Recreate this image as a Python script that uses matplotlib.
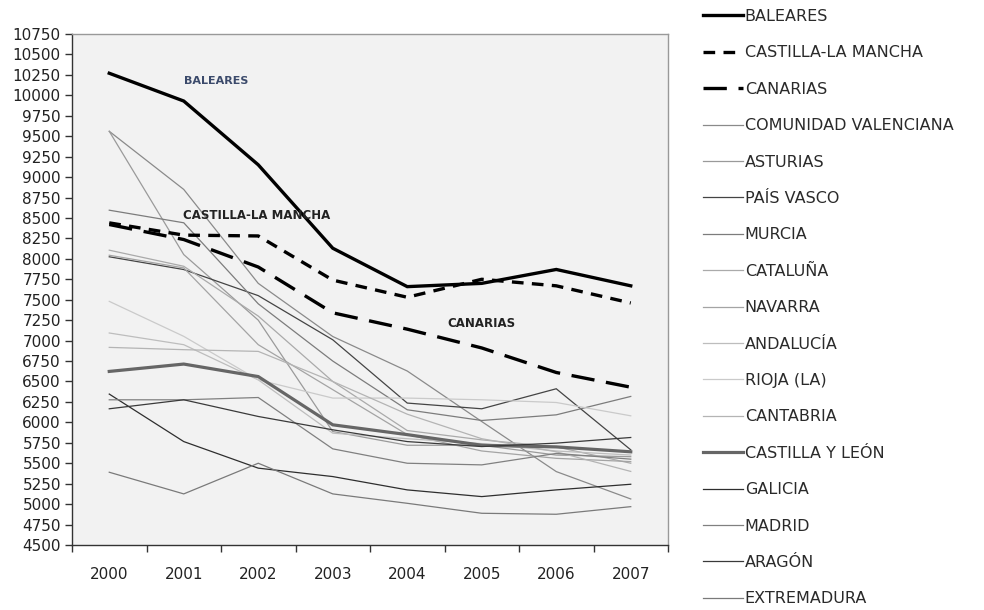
import matplotlib
matplotlib.use("Agg")
import matplotlib.pyplot as plt
import numpy as np

years = ["2000", "2001", "2002", "2003", "2004", "2005", "2006", "2007"]

baleares = [10270, 9930, 9150, 8130, 7660, 7700, 7870, 7670]
castilla_la_mancha = [8440, 8290, 8280, 7740, 7530, 7750, 7670, 7460]
canarias = [8420, 8236, 7900, 7340, 7140, 6910, 6610, 6430]
com_valenciana = [9560, 8849, 7700, 7050, 6628, 6010, 5398, 5063]
asturias = [9560, 8052, 7250, 5888, 5720, 5720, 5600, 5580]
pais_vasco = [8025, 7869, 7550, 7010, 6236, 6166, 6411, 5664]
murcia = [8595, 8441, 7450, 6750, 6154, 6023, 6092, 6317]
cataluna = [8106, 7909, 7300, 6500, 5900, 5786, 5700, 5500]
navarra = [8044, 7889, 6950, 6400, 5850, 5650, 5560, 5520]
andalucia = [7093, 6950, 6520, 5868, 5800, 5740, 5650, 5600]
rioja = [7480, 7052, 6520, 6297, 6297, 6276, 6243, 6080]
cantabria = [6917, 6889, 6868, 6500, 6100, 5800, 5640, 5400]
castilla_leon = [6623, 6713, 6560, 5970, 5850, 5720, 5700, 5640]
galicia = [6346, 5765, 5440, 5337, 5174, 5092, 5174, 5243]
madrid = [6276, 6276, 6304, 5676, 5500, 5480, 5620, 5550]
aragon = [6166, 6276, 6072, 5909, 5765, 5704, 5746, 5815]
extremadura = [5390, 5125, 5500, 5125, 5010, 4888, 4876, 4969]

y_ticks = list(range(4500, 10751, 250))

series = [
    ("BALEARES", baleares, dict(color="black", lw=2.4, ls="-")),
    ("CASTILLA-LA MANCHA", castilla_la_mancha, dict(color="black", lw=2.4, ls=(0, (3.5, 2.5)))),
    ("CANARIAS", canarias, dict(color="black", lw=2.4, ls=(0, (7, 3.5)))),
    ("COMUNIDAD VALENCIANA", com_valenciana, dict(color="#8a8a8a", lw=0.9, ls="-")),
    ("ASTURIAS", asturias, dict(color="#9a9a9a", lw=0.9, ls="-")),
    ("PAÍS VASCO", pais_vasco, dict(color="#444444", lw=0.9, ls="-")),
    ("MURCIA", murcia, dict(color="#7c7c7c", lw=0.9, ls="-")),
    ("CATALUÑA", cataluna, dict(color="#aaaaaa", lw=0.9, ls="-")),
    ("NAVARRA", navarra, dict(color="#a4a4a4", lw=0.9, ls="-")),
    ("ANDALUCÍA", andalucia, dict(color="#bdbdbd", lw=0.9, ls="-")),
    ("RIOJA (LA)", rioja, dict(color="#cacaca", lw=0.9, ls="-")),
    ("CANTABRIA", cantabria, dict(color="#b4b4b4", lw=0.9, ls="-")),
    ("CASTILLA Y LEÓN", castilla_leon, dict(color="#666666", lw=2.3, ls="-")),
    ("GALICIA", galicia, dict(color="#2e2e2e", lw=0.9, ls="-")),
    ("MADRID", madrid, dict(color="#808080", lw=0.9, ls="-")),
    ("ARAGÓN", aragon, dict(color="#3a3a3a", lw=0.9, ls="-")),
    ("EXTREMADURA", extremadura, dict(color="#7a7a7a", lw=0.9, ls="-")),
]

plt.rcParams['font.family'] = ['DejaVu Sans']
fig = plt.figure(figsize=(9.84, 6.10), dpi=100)
ax = fig.add_axes([72/984, 1-545/610, (668-72)/984, (545-34)/610])
ax.set_facecolor("#f2f2f2")

x = np.arange(len(years))
order = list(range(3, len(series))) + [0, 1, 2]
lines = {}
for i in order:
    name, vals, st = series[i]
    ln, = ax.plot(x, vals, label=name, solid_joinstyle="miter", **st)
    lines[i] = ln
handles = [lines[i] for i in range(len(series))]

ax.set_xlim(-0.5, len(years) - 0.5)
ax.set_ylim(4500, 10750)
ax.set_yticks(y_ticks)
ax.set_yticklabels([str(v) for v in y_ticks], fontsize=11, color="#222222")
ax.set_xticks(np.arange(-0.5, len(years), 1.0))
ax.set_xticklabels([])
ax.set_xticks(x, minor=True)
ax.set_xticklabels(years, minor=True, fontsize=11, color="#222222")
ax.tick_params(axis="x", which="minor", length=0, pad=16)
ax.tick_params(axis="x", which="major", length=5, width=1, color="#333333", direction="out")
ax.tick_params(axis="y", length=5, width=1, color="#333333", direction="out", pad=3)

for s in ["left", "bottom"]:
    ax.spines[s].set_color("#333333")
    ax.spines[s].set_linewidth(1.0)
for s in ["top", "right"]:
    ax.spines[s].set_color("#999999")
    ax.spines[s].set_linewidth(1.0)

ax.text(1.44, 10172, "BALEARES", fontsize=8, fontweight="bold", color="#3b4a6b",
        ha="center", va="center")
ax.text(1.98, 8530, "CASTILLA-LA MANCHA", fontsize=8.5, fontweight="bold", color="#222222",
        ha="center", va="center")
ax.text(5.0, 7207, "CANARIAS", fontsize=8.5, fontweight="bold", color="#222222",
        ha="center", va="center")

leg = fig.legend(handles=handles, loc="upper left", bbox_to_anchor=(703/984, 1 - 9/610),
                 frameon=False, fontsize=11.5, handlelength=2.5, handletextpad=0.12,
                 labelspacing=1.34, borderaxespad=0, borderpad=0)
for t in leg.get_texts():
    t.set_color("#2a2a2a")

fig.savefig("out.png", dpi=100, facecolor="white")
